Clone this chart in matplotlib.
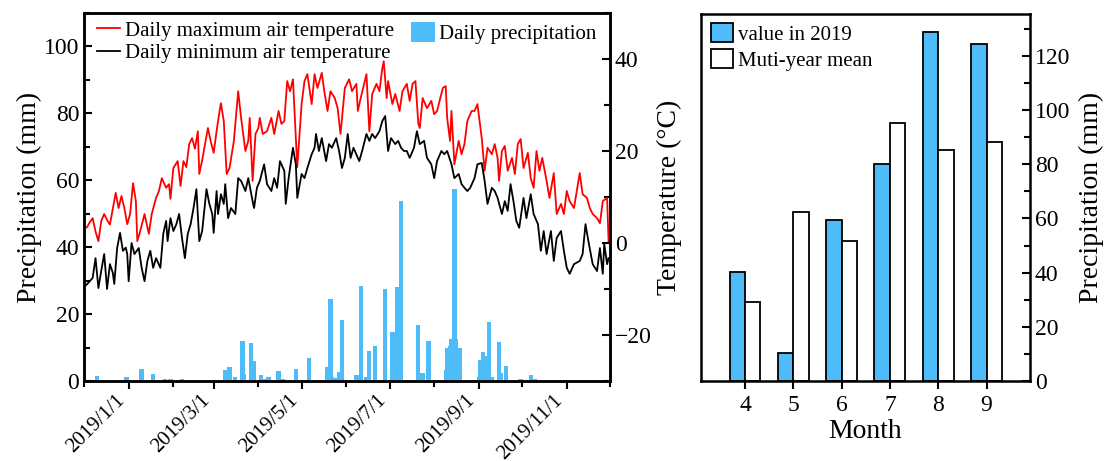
import numpy as np
import matplotlib
matplotlib.use("Agg")
import matplotlib.pyplot as plt
import matplotlib.dates as mdates
from matplotlib.ticker import MultipleLocator, FuncFormatter
from matplotlib.patches import Patch
from matplotlib.lines import Line2D

plt.rcParams['font.family'] = ['Liberation Serif', 'DejaVu Serif']

# daily series, day 0 = 2018-12-01
start = mdates.date2num(np.datetime64('2018-12-01'))

tmax_day = [0, 2, 4, 6, 8, 10, 12, 14, 16, 18, 20, 22, 24, 26, 28, 30, 32, 34, 36, 37,
            39, 42, 45, 47, 50, 52, 54, 57, 59, 60, 62, 65, 67, 69, 71, 73, 75, 77, 79, 80,
            82, 84, 86, 88, 90, 92, 94, 95, 97, 99, 101, 104, 107, 109, 112, 114, 115, 117, 119, 121,
            122, 124, 127, 130, 132, 135, 137, 139, 141, 143, 145, 147, 148, 151, 153, 155, 158, 160, 162, 165,
            167, 169, 171, 174, 176, 178, 181, 184, 186, 189, 190, 192, 196, 198, 200, 203, 205, 207, 208, 210,
            211, 214, 216, 219, 221, 224, 226, 228, 230, 232, 233, 235, 238, 241, 243, 245, 249, 251, 252, 254,
            255, 257, 260, 262, 264, 266, 269, 271, 273, 276, 278, 280, 283, 285, 287, 288, 290, 292, 294, 297,
            299, 301, 303, 305, 308, 310, 312, 314, 316, 318, 321, 323, 326, 328, 331, 333, 335, 337, 340, 344,
            346, 349, 351, 353, 356, 358, 360, 363, 364]
tmax = [3.2, 3.4, 4.5, 5.4, 2.5, 0.4, 4.8, 6.3, 5.0, 4.0, 7.4, 10.9, 7.6, 10.2, 7.6, 4.1, 6.3, 13.0, 9.1, 0.4,
        2.6, 6.3, 2.0, 6.3, 9.8, 11.3, 14.1, 12.0, 12.8, 9.6, 16.3, 17.8, 12.4, 17.8, 16.5, 21.5, 22.8, 20.5, 24.3, 15.0,
        18.0, 21.5, 25.0, 22.0, 19.6, 24.3, 28.5, 30.4, 26.5, 15.0, 16.3, 22.2, 33.0, 27.2, 20.0, 22.2, 27.2, 13.5, 23.7, 25.0,
        27.2, 23.7, 24.3, 27.2, 23.7, 28.7, 25.9, 26.5, 35.2, 33.0, 35.6, 22.8, 16.5, 30.2, 35.2, 36.7, 30.2, 36.7, 33.7, 37.0,
        32.4, 28.7, 33.0, 31.5, 29.3, 23.7, 33.7, 35.6, 33.0, 34.6, 28.7, 31.5, 36.7, 24.3, 32.4, 34.6, 33.0, 38.0, 39.5, 31.5,
        35.2, 30.2, 32.4, 28.7, 33.0, 34.6, 30.9, 34.6, 35.2, 25.9, 25.0, 31.5, 29.3, 30.9, 28.0, 28.7, 33.7, 34.1, 27.2, 22.2,
        28.7, 17.1, 22.2, 19.3, 21.5, 26.5, 28.7, 28.7, 30.2, 22.8, 15.7, 20.7, 19.3, 21.5, 18.5, 13.5, 20.0, 21.1, 15.7, 18.5,
        15.0, 21.5, 22.6, 16.3, 19.6, 14.1, 12.0, 20.0, 15.7, 18.5, 13.5, 9.8, 15.2, 6.3, 8.5, 6.3, 11.3, 9.1, 7.6, 15.2,
        10.6, 9.8, 7.6, 6.3, 5.4, 4.3, 9.1, 9.8, 0.4]

tmin_day = [0, 2, 4, 6, 8, 10, 12, 14, 16, 18, 20, 21, 23, 25, 27, 29, 30, 31, 33, 35,
            38, 40, 42, 44, 46, 48, 50, 53, 55, 57, 58, 60, 62, 64, 66, 68, 70, 72, 74, 76,
            78, 80, 82, 85, 87, 89, 90, 92, 93, 95, 97, 98, 100, 102, 105, 107, 109, 112, 114, 117,
            118, 120, 122, 125, 127, 130, 132, 134, 136, 139, 140, 142, 145, 147, 148, 151, 153, 155, 158, 160,
            161, 163, 165, 168, 170, 172, 175, 177, 179, 181, 183, 185, 187, 191, 193, 196, 198, 200, 202, 205,
            207, 209, 211, 213, 216, 218, 220, 222, 224, 226, 229, 231, 233, 236, 238, 241, 243, 245, 248, 250,
            252, 255, 257, 260, 262, 264, 266, 268, 271, 273, 276, 278, 280, 283, 285, 287, 290, 292, 294, 296,
            298, 300, 302, 305, 307, 310, 312, 315, 317, 319, 321, 324, 326, 328, 331, 333, 335, 337, 340, 344,
            346, 348, 350, 353, 356, 358, 360, 361, 363, 364]
tmin = [-9.5, -9.0, -8.3, -7.6, -3.3, -9.8, -6.0, -2.4, -10.0, -4.6, -6.5, -8.9, -1.1, 2.2, -1.7, -1.0, -2.4, -8.3, 0.0, -2.4,
        -1.1, -5.4, -8.3, -3.9, -1.7, -5.4, -3.3, -5.4, 2.0, 4.8, 0.4, 5.4, 2.6, 4.0, 6.3, 1.1, -3.3, 2.0, 4.1, 7.6,
        11.7, 0.4, 2.6, 11.7, 8.5, 6.3, 2.2, 11.3, 6.3, 10.6, 8.5, 12.8, 5.4, 7.6, 6.3, 14.1, 13.5, 11.3, 14.1, 9.1,
        7.6, 12.0, 13.5, 17.1, 12.8, 11.3, 14.1, 12.0, 17.8, 15.7, 8.5, 14.1, 20.7, 17.1, 9.8, 15.0, 14.1, 16.3, 19.3, 20.7,
        23.7, 20.0, 22.8, 17.8, 21.5, 20.7, 22.8, 20.0, 16.3, 18.5, 23.7, 18.5, 20.7, 17.8, 20.0, 23.7, 22.2, 23.7, 22.8, 24.3,
        26.5, 27.6, 20.0, 22.8, 21.5, 22.2, 20.7, 20.0, 20.0, 18.5, 20.7, 24.3, 21.5, 22.2, 18.5, 17.1, 14.1, 17.8, 20.0, 19.3,
        20.0, 17.1, 14.1, 15.0, 12.8, 12.0, 11.3, 12.0, 14.1, 17.1, 17.4, 13.5, 8.5, 12.0, 11.3, 9.8, 6.3, 9.1, 7.0, 12.8,
        9.1, 4.8, 3.3, 9.8, 5.4, 10.6, 6.3, 4.1, -1.7, 2.6, -2.4, 2.6, -3.9, 1.1, 2.6, -1.7, -5.4, -6.7, -4.6, -3.9,
        -2.4, 4.1, 0.4, -4.6, -6.1, -1.1, -6.7, -0.2, -4.6, -3.3]

rain_day = [9, 29, 30, 40, 43, 48, 56, 60, 68, 98, 101, 105, 110, 111, 116, 118, 123, 126, 128, 135,
            138, 147, 156, 169, 171, 172, 175, 177, 179, 189, 192, 196, 198, 202, 209, 214, 217, 220, 232, 235,
            239, 251, 252, 254, 255, 257, 258, 260, 261, 274, 275, 277, 279, 281, 283, 288, 289, 293, 303, 310,
            313, 334]
rain = [1.5, 1.3, 1.3, 3.5, 0.3, 2.0, 0.7, 0.7, 0.7, 3.2, 4.3, 1.2, 12.0, 2.0, 11.4, 5.9, 1.8, 0.7, 1.1, 3.0,
        0.5, 3.5, 7.0, 4.3, 24.4, 1.3, 1.0, 2.6, 18.1, 1.8, 28.4, 1.3, 8.9, 10.5, 27.6, 14.7, 28.0, 53.8, 16.7, 2.5,
        11.9, 3.2, 9.9, 10.4, 12.7, 57.3, 12.7, 7.5, 9.8, 1.3, 6.3, 8.8, 7.5, 17.7, 1.3, 11.7, 2.5, 4.6, 0.5, 1.8,
        0.5, 0.3]

# monthly totals, growing season
months = [4, 5, 6, 7, 8, 9]
rain_2019 = [40.1, 10.4, 59.4, 80.2, 128.8, 124.5]
rain_mean = [29.3, 62.4, 51.7, 95.3, 85.2, 88.2]

blue = '#4DBCF9'
tick_fs = 17
label_fs = 20
leg_fs = 15

fig = plt.figure(figsize=(11.07, 4.61), dpi=100)
ax = fig.add_axes([84 / 1107, 1 - 381 / 461, 526 / 1107, 368 / 461])
ax2 = ax.twinx()

ax.bar(start + np.array(rain_day), rain, width=3.0, color=blue, linewidth=0, zorder=2)
ax2.plot(start + np.array(tmax_day), tmax, color='red', lw=1.3)
ax2.plot(start + np.array(tmin_day), tmin, color='black', lw=1.3)

ax.set_xlim(start, start + 365)
ax.set_ylim(0, 110)
ax2.set_ylim(-30, 50)

ax.xaxis_date()
ax.xaxis.set_major_locator(mdates.MonthLocator(bymonth=[1, 3, 5, 7, 9, 11]))
ax.xaxis.set_minor_locator(mdates.MonthLocator())


def fmt_date(x, pos):
    d = mdates.num2date(x)
    return f"{d.year}/{d.month}/{d.day}"


ax.xaxis.set_major_formatter(FuncFormatter(fmt_date))
ax.tick_params(axis='x', which='major', direction='out', length=6, width=1.5, labelsize=15, pad=1,
               labelrotation=45)
plt.setp(ax.get_xticklabels(), ha='right', va='top')

ax.yaxis.set_major_locator(MultipleLocator(20))
ax.yaxis.set_minor_locator(MultipleLocator(10))
ax2.yaxis.set_major_locator(MultipleLocator(20))
ax2.yaxis.set_minor_locator(MultipleLocator(10))

ax.tick_params(axis='x', which='minor', direction='out', length=4, width=1.5)
ax.tick_params(axis='y', which='major', direction='in', length=6, width=1.5, labelsize=tick_fs)
ax.tick_params(axis='y', which='minor', direction='in', length=4, width=1.5)
ax2.tick_params(axis='y', which='major', direction='in', length=6, width=1.5, labelsize=tick_fs)
ax2.tick_params(axis='y', which='minor', direction='in', length=4, width=1.5)
for a in (ax, ax2):
    for s in a.spines.values():
        s.set_linewidth(1.8)

ax.set_ylabel('Precipitation (mm)', fontsize=label_fs, labelpad=1)
ax2.set_ylabel('Temperature (°C)', fontsize=label_fs, labelpad=4)

line_handles = [Line2D([], [], color='red', lw=1.3), Line2D([], [], color='black', lw=1.3)]
leg1 = ax2.legend(line_handles, ['Daily maximum air temperature', 'Daily minimum air temperature'],
                  loc='upper left', bbox_to_anchor=(97 / 1107, 1 - 21 / 461), bbox_transform=fig.transFigure,
                  frameon=False, fontsize=leg_fs, borderpad=0, borderaxespad=0, handlelength=1.1,
                  handletextpad=0.25, labelspacing=0.15)
ax2.add_artist(leg1)
ax2.legend([Patch(facecolor=blue, edgecolor='none')], ['Daily precipitation'],
           loc='upper left', bbox_to_anchor=(411 / 1107, 1 - 22 / 461), bbox_transform=fig.transFigure,
           frameon=False, fontsize=leg_fs, borderpad=0, borderaxespad=0, handlelength=1.15,
           handleheight=1.1, handletextpad=0.2)

# right panel: monthly precipitation
bx = fig.add_axes([701 / 1107, 1 - 381 / 461, 329 / 1107, 367 / 461])
m = np.array(months)
bx.bar(m - 0.16, rain_2019, width=0.32, color=blue, edgecolor='black', linewidth=1.3, label='value in 2019')
bx.bar(m + 0.16, rain_mean, width=0.32, color='white', edgecolor='black', linewidth=1.3, label='Muti-year mean')
bx.set_xlim(3.09, 9.9)
bx.set_ylim(0, 135.5)
bx.set_xticks(months)
bx.yaxis.tick_right()
bx.yaxis.set_label_position('right')
bx.yaxis.set_major_locator(MultipleLocator(20))
bx.yaxis.set_minor_locator(MultipleLocator(10))
bx.tick_params(axis='x', which='major', direction='out', length=6, width=1.5, labelsize=tick_fs, pad=4)
bx.tick_params(axis='y', which='major', direction='in', length=6, width=1.5, labelsize=tick_fs)
bx.tick_params(axis='y', which='minor', direction='in', length=4, width=1.5)
for s in bx.spines.values():
    s.set_linewidth(1.8)
bx.set_xlabel('Month', fontsize=label_fs, labelpad=2)
bx.set_ylabel('Precipitation (mm)', fontsize=label_fs, labelpad=6)
bx.legend(loc='upper left', bbox_to_anchor=(711 / 1107, 1 - 23 / 461), bbox_transform=fig.transFigure,
          frameon=False, fontsize=leg_fs, borderpad=0, borderaxespad=0, handlelength=1.05,
          handleheight=1.05, handletextpad=0.25, labelspacing=0.2)

fig.savefig('out.png', dpi=100)
